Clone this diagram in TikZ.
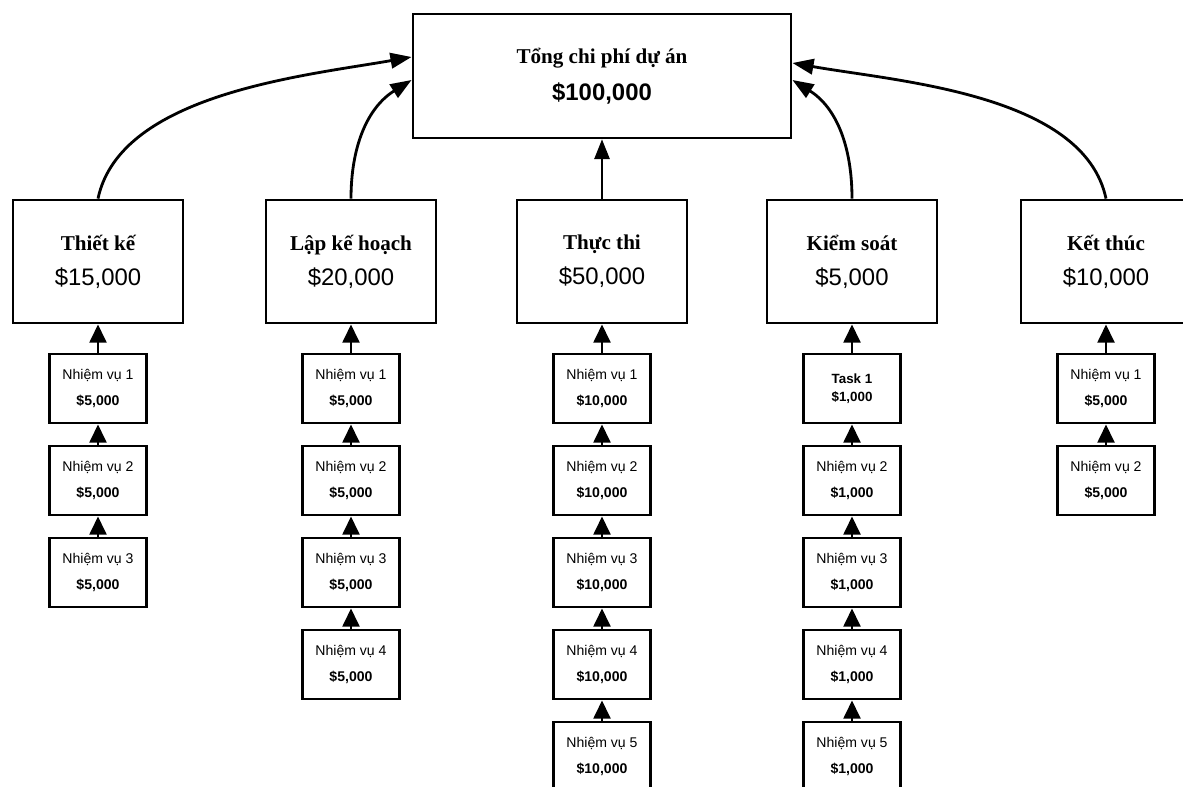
\documentclass[tikz,border=0pt]{standalone}
\usepackage{fontspec}
\setmainfont{Liberation Serif}
\setsansfont{Liberation Sans}
\usetikzlibrary{arrows.meta}

\newcommand{\headfont}{\rmfamily\bfseries\fontsize{15}{18}\selectfont}
\newcommand{\costfont}{\sffamily\fontsize{17}{20}\selectfont}

\begin{document}
\begin{tikzpicture}[x=0.025cm, y=-0.025cm,
    phasebox/.style={draw, line width=2pt, minimum width=4.25cm, minimum height=3.075cm,
        align=center, inner sep=0pt, font=\fontsize{15}{25}\selectfont},
    totalbox/.style={phasebox, minimum width=9.45cm, minimum height=3.1cm,
        font=\fontsize{15}{26}\selectfont},
    taskbox/.style={draw, line width=2pt, minimum width=2.425cm, minimum height=1.725cm,
        align=center, inner sep=0pt, font=\sffamily\fontsize{10}{18}\selectfont},
    costlink/.style={line width=2pt, -{Triangle[length=15pt, width=11pt]}},
    midlink/.style={line width=0.9pt, -{Triangle[length=14pt, width=11pt]}},
    tasklink/.style={line width=2pt, -{Triangle[length=13pt, width=12pt]}},
]
    % --- SETTINGS ---
    \def\rowY{261.5}
    \def\taskY{388.5}
    \def\taskStep{92}

    \useasboundingbox (0, 0) rectangle (1183, 787);
    \clip (0, 0) rectangle (1183, 787);

    % =========================================
    % TOTAL (Top)
    % =========================================
    \node[totalbox] (total) at (602, 76) {{\headfont Tổng chi phí dự án}\\
        {\sffamily\bfseries\fontsize{17}{20}\selectfont \$100,000}};

    % =========================================
    % PHASES (Middle row)
    % =========================================
    \foreach \x/\name/\title/\cost in {98/thietke/Thiết kế/{15,000},
        351/lapkh/Lập kế hoạch/{20,000}, 602/thucthi/Thực thi/{50,000},
        852/kiemsoat/Kiểm soát/{5,000}, 1106/ketthuc/Kết thúc/{10,000}} {
        \node[phasebox] (\name) at (\x, \rowY) {{\headfont \title}\\{\costfont \$\cost}};
    }

    % Arrows into the total box
    \coordinate (total-l1) at ([yshift=0.475cm]total.west);
    \coordinate (total-l2) at ([yshift=-0.1cm]total.west);
    \coordinate (total-r1) at ([yshift=0.325cm]total.east);
    \coordinate (total-r2) at ([yshift=-0.1cm]total.east);
    \draw[costlink] (thietke.north) to[out=78, in=190, looseness=0.8] (total-l1);
    \draw[costlink] (lapkh.north) to[out=90, in=212] (total-l2);
    \draw[midlink] (thucthi.north) -- (total.south);
    \draw[costlink] (kiemsoat.north) to[out=90, in=-32] (total-r2);
    \draw[costlink] (ketthuc.north) to[out=102, in=-10, looseness=0.8] (total-r1);

    % =========================================
    % TASKS (Columns)
    % =========================================
    \foreach \x/\col/\first/\n/\cost in {98/thietke/1/3/{5,000}, 351/lapkh/1/4/{5,000},
        602/thucthi/1/5/{10,000}, 852/kiemsoat/2/5/{1,000}, 1106/ketthuc/1/2/{5,000}} {
        \foreach \i in {\first,...,\n} {
            \node[taskbox] (\col-\i) at (\x, {\taskY + (\i-1)*\taskStep})
                {Nhiệm vụ \i\\\textbf{\$\cost}};
        }
    }
    % the first control task is labelled in English
    \node[taskbox, font=\sffamily\bfseries\fontsize{9.5}{13}\selectfont] (kiemsoat-1)
        at (852, \taskY) {Task 1\\\$1,000};

    % Task links
    \foreach \col/\n in {thietke/3, lapkh/4, thucthi/5, kiemsoat/5, ketthuc/2} {
        \draw[tasklink] (\col-1.north) -- (\col.south);
        \foreach \i [evaluate=\i as \j using int(\i-1)] in {2,...,\n} {
            \draw[tasklink] (\col-\i.north) -- (\col-\j.south);
        }
    }
\end{tikzpicture}
\end{document}
